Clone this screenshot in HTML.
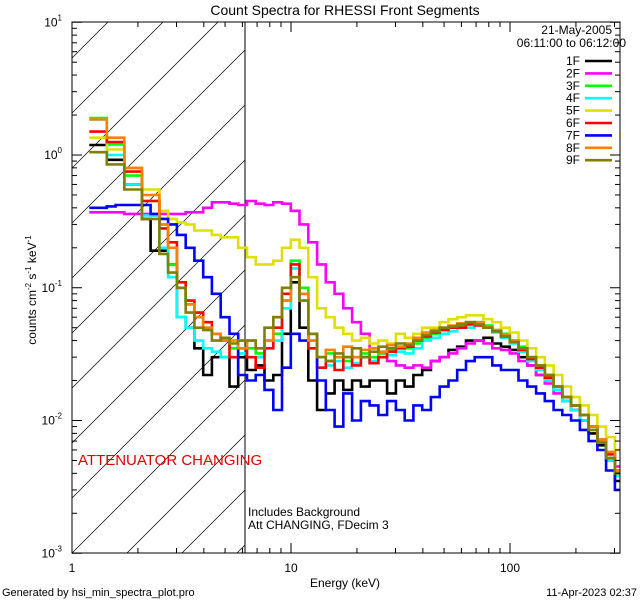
<!DOCTYPE html>
<html><head><meta charset="utf-8"><style>
body{margin:0;background:#fff}
svg{display:block;font-family:"Liberation Sans",sans-serif}
</style></head><body>
<svg id="chart" width="640" height="600" viewBox="0 0 640 600">
<defs><clipPath id="pc"><rect x="72" y="22" width="548" height="531"/></clipPath>
<clipPath id="hc"><rect x="72" y="22" width="173" height="531"/></clipPath></defs>
<text x="345" y="15" font-size="14" text-anchor="middle">Count Spectra for RHESSI Front Segments</text>
<g id="hatch" clip-path="url(#hc)"></g>
<line x1="245" y1="22" x2="245" y2="553" stroke="#000" stroke-width="1"/>
<g id="series" clip-path="url(#pc)"></g>
<rect x="72" y="22" width="548" height="531" fill="none" stroke="#000" stroke-width="1"/>
<g id="axes"></g>
<text x="78" y="465" font-size="15" fill="#e00000">ATTENUATOR CHANGING</text>
<text x="248" y="516" font-size="12">Includes Background</text>
<text x="248" y="529" font-size="12">Att CHANGING, FDecim 3</text>
<text x="345" y="587" font-size="12" text-anchor="middle">Energy (keV)</text>
<text transform="translate(36,290) rotate(-90)" font-size="12" text-anchor="middle">counts cm<tspan font-size="8" dy="-5">-2</tspan><tspan dy="5"> s</tspan><tspan font-size="8" dy="-5">-1</tspan><tspan dy="5"> keV</tspan><tspan font-size="8" dy="-5">-1</tspan></text>
<text x="2" y="596" font-size="11">Generated by hsi_min_spectra_plot.pro</text>
<text x="637" y="596" font-size="11" text-anchor="end">11-Apr-2023 02:37</text>
<text x="612" y="34" font-size="12" text-anchor="end">21-May-2005</text>
<text x="626" y="47" font-size="12" text-anchor="end">06:11:00 to 06:12:00</text>
<g id="legend"></g>
</svg>
<script>
const NS="http://www.w3.org/2000/svg";
const names=["1F","2F","3F","4F","5F","6F","7F","8F","9F"];
const colors=["#000000","#ff00ff","#00ff00","#00ffff","#e0e000","#ff0000","#0000ff","#ff8000","#808000"];
const binStartLog=0.079, binStepLog=0.04;
const s1F=[1.19,1.19,0.92,0.92,0.6,0.6,0.33,0.19,0.19,0.15,0.06,0.05,0.035,0.022,0.03,0.03,0.018,0.03,0.024,0.026,0.02,0.022,0.045,0.11,0.05,0.02,0.012,0.016,0.02,0.017,0.02,0.018,0.02,0.02,0.016,0.02,0.018,0.022,0.024,0.028,0.03,0.034,0.036,0.04,0.04,0.042,0.038,0.036,0.034,0.03,0.026,0.022,0.02,0.017,0.014,0.012,0.01,0.008,0.0065,0.005,0.0035];
const s2F=[0.37,0.37,0.37,0.37,0.36,0.36,0.36,0.35,0.36,0.36,0.36,0.37,0.37,0.4,0.44,0.44,0.43,0.42,0.45,0.43,0.42,0.44,0.43,0.38,0.3,0.22,0.15,0.11,0.09,0.07,0.055,0.045,0.035,0.032,0.028,0.026,0.025,0.026,0.025,0.028,0.03,0.032,0.035,0.038,0.04,0.038,0.035,0.034,0.032,0.028,0.026,0.022,0.019,0.016,0.014,0.012,0.01,0.009,0.007,0.0055,0.0045];
const s3F=[1.9,1.9,1.2,1.2,0.7,0.7,0.45,0.45,0.3,0.15,0.1,0.075,0.06,0.05,0.045,0.04,0.035,0.04,0.035,0.032,0.04,0.045,0.08,0.16,0.1,0.04,0.03,0.032,0.03,0.028,0.03,0.032,0.03,0.032,0.034,0.036,0.035,0.038,0.042,0.045,0.048,0.05,0.052,0.054,0.055,0.052,0.048,0.045,0.04,0.036,0.03,0.026,0.022,0.018,0.015,0.013,0.011,0.009,0.007,0.0055,0.004];
const s4F=[1.85,1.85,1.0,1.0,0.6,0.6,0.35,0.35,0.2,0.12,0.06,0.05,0.04,0.035,0.033,0.03,0.03,0.032,0.03,0.03,0.035,0.04,0.07,0.14,0.08,0.035,0.025,0.026,0.028,0.025,0.027,0.03,0.028,0.03,0.031,0.033,0.032,0.035,0.04,0.042,0.045,0.047,0.05,0.05,0.052,0.05,0.046,0.042,0.038,0.033,0.028,0.024,0.02,0.017,0.014,0.012,0.01,0.0085,0.0068,0.005,0.0038];
const s5F=[1.35,1.35,1.1,1.1,0.8,0.8,0.55,0.55,0.38,0.33,0.31,0.3,0.27,0.27,0.25,0.24,0.24,0.2,0.17,0.15,0.15,0.16,0.2,0.23,0.2,0.12,0.07,0.06,0.05,0.045,0.04,0.042,0.038,0.04,0.038,0.045,0.042,0.045,0.05,0.05,0.055,0.058,0.06,0.062,0.062,0.058,0.055,0.05,0.046,0.04,0.035,0.03,0.026,0.022,0.018,0.015,0.013,0.011,0.009,0.0075,0.006];
const s6F=[1.5,1.5,1.25,1.25,0.75,0.75,0.45,0.45,0.28,0.22,0.11,0.08,0.065,0.055,0.045,0.04,0.03,0.035,0.03,0.025,0.035,0.05,0.09,0.15,0.09,0.035,0.025,0.028,0.024,0.03,0.026,0.03,0.027,0.03,0.033,0.035,0.036,0.04,0.043,0.046,0.048,0.05,0.05,0.053,0.052,0.05,0.047,0.043,0.039,0.034,0.029,0.025,0.021,0.018,0.015,0.013,0.011,0.009,0.0072,0.0056,0.0042];
const s7F=[0.4,0.4,0.41,0.42,0.42,0.42,0.42,0.36,0.33,0.3,0.25,0.2,0.16,0.12,0.09,0.06,0.045,0.022,0.02,0.022,0.017,0.012,0.025,0.045,0.04,0.045,0.02,0.012,0.009,0.016,0.01,0.014,0.013,0.011,0.014,0.012,0.01,0.013,0.012,0.015,0.018,0.02,0.024,0.028,0.03,0.03,0.026,0.024,0.024,0.02,0.018,0.016,0.014,0.012,0.011,0.01,0.0085,0.007,0.006,0.0042,0.003];
const s8F=[1.85,1.85,1.35,1.35,0.8,0.8,0.5,0.5,0.3,0.2,0.1,0.075,0.06,0.05,0.045,0.04,0.04,0.035,0.04,0.035,0.04,0.06,0.08,0.12,0.09,0.04,0.03,0.034,0.03,0.036,0.03,0.034,0.035,0.033,0.037,0.036,0.038,0.042,0.046,0.048,0.05,0.052,0.054,0.055,0.054,0.051,0.048,0.044,0.04,0.035,0.03,0.026,0.022,0.018,0.015,0.013,0.011,0.009,0.0072,0.0058,0.0042];
const s9F=[1.05,1.05,0.85,0.85,0.55,0.55,0.33,0.33,0.18,0.13,0.1,0.065,0.05,0.048,0.04,0.042,0.038,0.04,0.04,0.035,0.05,0.06,0.1,0.12,0.08,0.045,0.03,0.028,0.032,0.03,0.035,0.03,0.033,0.036,0.035,0.038,0.037,0.04,0.044,0.047,0.05,0.051,0.053,0.055,0.053,0.05,0.047,0.043,0.039,0.035,0.03,0.026,0.022,0.018,0.015,0.013,0.011,0.0085,0.0068,0.0052,0.004];
const allSeries=[s1F,s2F,s3F,s4F,s5F,s6F,s7F,s8F,s9F];
const yTickExp=[1,0,-1,-2,-3];
const xTickVals=[1,10,100];

const X0=72,XD=219,Y0=155,YD=132.75;
const xs=e=>X0+XD*Math.log10(e);
const xl=l=>X0+XD*l;
const ys=v=>Y0-YD*Math.log10(v);
function mk(t,a,p){const e=document.createElementNS(NS,t);for(const k in a)e.setAttribute(k,a[k]);(p||document.getElementById('chart')).appendChild(e);return e;}

// hatch
const hatch=document.getElementById('hatch');
for(let k=-12;k<4;k++){const b=X0+k*55+600;
 const l=mk('line',{x1:b-600,y1:553,x2:b,y2:-47,stroke:'#000','stroke-width':0.7},hatch);
 
 }

// series
const sg=document.getElementById('series');
allSeries.forEach((vals,si)=>{
 let d='';
 vals.forEach((v,i)=>{const xa=xl(binStartLog+binStepLog*i),xb=xl(binStartLog+binStepLog*(i+1)),y=ys(v);
  d+=(i===0?'M':'L')+xa.toFixed(1)+','+y.toFixed(1)+'L'+xb.toFixed(1)+','+y.toFixed(1);});
 const p=mk('path',{d:d,fill:'none',stroke:colors[si],'stroke-width':2.6,'stroke-linejoin':'miter'},sg);
 
 
});

// axes
const ax=document.getElementById('axes');
yTickExp.forEach(ex=>{const y=ys(Math.pow(10,ex));
 const t=mk('text',{x:62,y:y+4,'font-size':12,'text-anchor':'end'},ax);
 t.innerHTML='10<tspan font-size="8" dy="-6">'+ex+'</tspan>';
 
 
 for(let m=1;m<10;m++){const v=Math.pow(10,ex)*m,yy=ys(v);if(yy<22||yy>553.5)continue;
  const len=m===1?10:5;
  mk('line',{x1:X0,y1:yy,x2:X0+len,y2:yy,stroke:'#000'},ax);
  mk('line',{x1:620,y1:yy,x2:620-len,y2:yy,stroke:'#000'},ax);}
});
xTickVals.forEach(v=>{const x=xs(v);
 const t=mk('text',{x:x,y:572,'font-size':12,'text-anchor':'middle'},ax);
 t.textContent=String(v);
 
 
 for(let m=1;m<10;m++){const xx=xs(v*m);if(xx>620)continue;const len=m===1?10:5;
  mk('line',{x1:xx,y1:553,x2:xx,y2:553-len,stroke:'#000'},ax);
  mk('line',{x1:xx,y1:22,x2:xx,y2:22+len,stroke:'#000'},ax);}
});

// legend
const lg=document.getElementById('legend');
names.forEach((n,i)=>{const y=61+i*12.4;
 const t=mk('text',{x:580,y:y+4,'font-size':12,'text-anchor':'end'},lg);
 t.textContent=n;
 
 
 const l=mk('line',{x1:585,y1:y,x2:612,y2:y,stroke:colors[i],'stroke-width':2.6},lg);
 
 
});
</script>
</body></html>
